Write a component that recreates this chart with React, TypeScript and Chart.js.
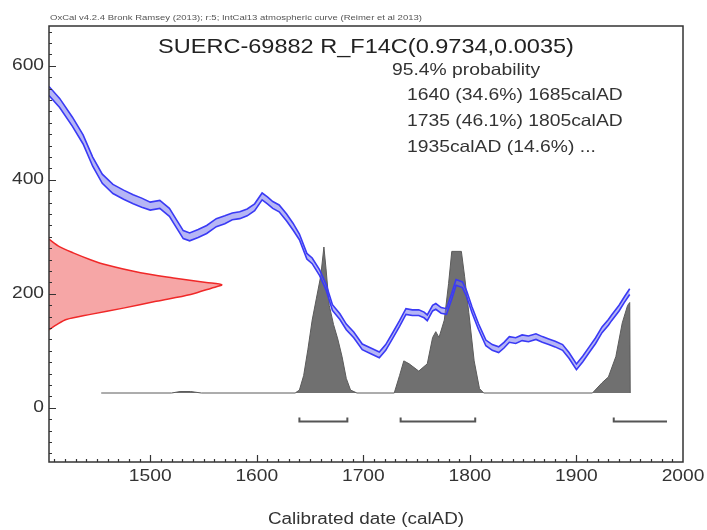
import React, { useEffect, useRef } from "react";
import { Chart, registerables } from "chart.js";

Chart.register(...registerables);

// Calibration curve (IntCal13), radiocarbon age BP: years, mean, 1-sigma
const curveYears = [1405, 1415, 1427, 1437, 1446, 1455, 1465, 1475, 1484, 1492, 1500, 1509, 1518, 1525, 1531, 1537, 1545, 1553, 1562, 1570, 1577, 1584, 1591, 1598, 1605, 1610, 1615, 1621, 1628, 1634, 1640, 1647, 1652, 1659, 1665, 1671, 1678, 1684, 1691, 1699, 1707, 1715, 1721, 1727, 1734, 1740, 1746, 1752, 1757, 1760, 1765, 1768, 1773, 1778, 1783, 1787, 1793, 1797, 1802, 1808, 1815, 1821, 1827, 1832, 1837, 1843, 1849, 1855, 1862, 1868, 1874, 1880, 1887, 1893, 1900, 1906, 1912, 1918, 1924, 1930, 1933, 1940, 1945, 1950];
const curveMid = [556, 535, 502, 471, 432, 402, 384, 374, 366, 360, 354, 357, 343, 322, 304, 300, 306, 313, 325, 330, 336, 338, 343, 352, 371, 364, 356, 350, 334, 318, 300, 266, 258, 237, 212, 176, 160, 142, 128, 107, 100, 93, 106, 125, 148, 169, 167, 167, 163, 158, 175, 178, 171, 169, 196, 220, 216, 200, 172, 143, 114, 106, 102, 110, 120, 118, 123, 121, 125, 120, 116, 112, 106, 92, 72, 86, 102, 118, 137, 150, 158, 175, 190, 204];
const curveErr = [8, 8, 8, 8, 8, 8, 8, 8, 8, 8, 7, 7, 7, 7, 7, 7, 7, 7, 7, 7, 6, 6, 6, 6, 6, 6, 6, 6, 6, 6, 5, 5, 5, 5, 5, 5, 5, 5, 5, 5, 5, 5, 5, 5, 5, 5, 5, 5, 5, 5, 5, 5, 5, 5, 5, 5, 5, 5, 5, 5, 5, 5, 5, 5, 5, 5, 5, 5, 5, 5, 5, 5, 5, 5, 5, 5, 5, 5, 5, 5, 5, 5, 5, 5];

// Posterior (calibrated) probability, relative density
const probYears = [1454, 1520, 1528, 1538, 1548, 1636, 1640, 1644, 1648, 1652, 1656, 1660, 1663, 1665, 1668, 1672, 1676, 1680, 1684, 1688, 1694, 1729, 1734, 1738, 1743, 1752, 1760, 1765, 1768, 1771, 1776, 1780, 1783, 1792, 1795, 1799, 1804, 1809, 1813, 1915, 1924, 1930, 1937, 1943, 1948, 1950, 1950.5];
const probDensity = [0, 0, 0.01, 0.01, 0, 0, 0.02, 0.12, 0.3, 0.5, 0.65, 0.8, 1.0, 0.85, 0.6, 0.47, 0.37, 0.25, 0.1, 0.02, 0, 0, 0.12, 0.22, 0.2, 0.15, 0.2, 0.38, 0.42, 0.38, 0.5, 0.75, 0.97, 0.97, 0.8, 0.55, 0.22, 0.03, 0, 0, 0.07, 0.11, 0.25, 0.48, 0.6, 0.62, 0];

// Measured radiocarbon age distribution (BP), relative density
const ageValues = [296, 283, 272, 260, 251, 237, 228, 220, 216, 210, 199, 187, 175, 164, 155, 146, 137];
const ageDensity = [0, 0.06, 0.14, 0.24, 0.33, 0.53, 0.72, 0.91, 1.0, 0.94, 0.82, 0.62, 0.43, 0.24, 0.1, 0.045, 0];

// 95.4% ranges
const rangeFrom = [1640, 1735, 1935];
const rangeTo = [1685, 1805, 1985];
const rangeOpen = [false, false, true];

const xTickValues = [1500, 1600, 1700, 1800, 1900, 2000];
const yTickValues = [0, 200, 400, 600];

const captionText = "OxCal v4.2.4 Bronk Ramsey (2013); r:5; IntCal13 atmospheric curve (Reimer et al 2013)";
const titleText = "SUERC-69882 R_F14C(0.9734,0.0035)";
const legendLines = ["95.4% probability", "1640 (34.6%) 1685calAD", "1735 (46.1%) 1805calAD", "1935calAD (14.6%) ..."];
const xAxisTitle = "Calibrated date (calAD)";

const FONT = "'Liberation Sans', Arial, Helvetica, sans-serif";
const BRACKET_LEVEL = -24;

function drawText(
  ctx: CanvasRenderingContext2D,
  text: string,
  x: number,
  y: number,
  size: number,
  align: CanvasTextAlign,
  hs: number,
  color: string,
  baseline: CanvasTextBaseline = "alphabetic"
) {
  ctx.save();
  ctx.font = `${size}px ${FONT}`;
  ctx.fillStyle = color;
  ctx.textAlign = align;
  ctx.textBaseline = baseline;
  ctx.translate(x, y);
  ctx.scale(hs, 1);
  ctx.fillText(text, 0, 0);
  ctx.restore();
}

const decorPlugin = {
  id: "oxcalDecor",
  afterDraw(chart: any) {
    const ctx = chart.ctx as CanvasRenderingContext2D;
    const { left, right, top, bottom } = chart.chartArea;
    const xs = chart.scales.x;
    const ys = chart.scales.y;
    ctx.save();
    // frame
    ctx.strokeStyle = "#333";
    ctx.lineWidth = 1.5;
    ctx.strokeRect(left, top, right - left, bottom - top);
    // y ticks (inward)
    ctx.lineWidth = 1.2;
    ctx.beginPath();
    for (let v = -80; v <= 660; v += 20) {
      const py = Math.round(ys.getPixelForValue(v)) + 0.5;
      const len = v % 200 === 0 ? 7 : 3;
      ctx.moveTo(left, py);
      ctx.lineTo(left + len, py);
    }
    // x ticks (inward)
    for (let yr = 1410; yr < 2000; yr += 10) {
      const px = Math.round(xs.getPixelForValue(yr)) + 0.5;
      const len = yr % 100 === 0 ? 7 : 3;
      ctx.moveTo(px, bottom);
      ctx.lineTo(px, bottom - len);
    }
    ctx.stroke();
    // range brackets
    ctx.strokeStyle = "#555";
    ctx.lineWidth = 2;
    const by = ys.getPixelForValue(BRACKET_LEVEL);
    for (let i = 0; i < rangeFrom.length; i++) {
      const x1 = xs.getPixelForValue(rangeFrom[i]);
      const x2 = xs.getPixelForValue(rangeTo[i]);
      ctx.beginPath();
      ctx.moveTo(x1, by - 4);
      ctx.lineTo(x1, by);
      ctx.lineTo(x2, by);
      if (!rangeOpen[i]) ctx.lineTo(x2, by - 4);
      ctx.stroke();
    }
    ctx.restore();

    // tick labels
    yTickValues.forEach((v) => drawText(ctx, String(v), left - 5, ys.getPixelForValue(v), 16, "right", 1.2, "#333", "middle"));
    xTickValues.forEach((v) => drawText(ctx, String(v), xs.getPixelForValue(v), 477, 16, "center", 1.2, "#333", "middle"));
    // texts
    drawText(ctx, captionText, 50, 20, 8, "left", 1.19, "#555");
    drawText(ctx, titleText, (left + right) / 2, 53, 21, "center", 1.12, "#222");
    const lx = [392, 407, 407, 407];
    const ly = [75, 100, 126, 152];
    legendLines.forEach((t, i) => drawText(ctx, t, lx[i], ly[i], 16.5, "left", 1.17, "#333"));
    drawText(ctx, xAxisTitle, (left + right) / 2, 520, 16, "center", 1.18, "#333", "middle");
  },
};

export default function App() {
  const ref = useRef<HTMLCanvasElement | null>(null);
  useEffect(() => {
    if (!ref.current) return;
    const upper = curveYears.map((x, i) => ({ x, y: curveMid[i] + curveErr[i] }));
    const lower = curveYears.map((x, i) => ({ x, y: curveMid[i] - curveErr[i] }));
    const prob = probYears.map((x, i) => ({ x, y: probDensity[i] }));
    const age = ageValues.map((v, i) => ({ x: ageDensity[i], y: v }));
    const chart = new Chart(ref.current, {
      type: "line",
      data: {
        datasets: [
          { data: upper, xAxisID: "x", yAxisID: "y", borderColor: "#3a3af5", borderWidth: 1.6, pointRadius: 0, fill: false, tension: 0 },
          { data: lower, xAxisID: "x", yAxisID: "y", borderColor: "#3a3af5", borderWidth: 1.6, pointRadius: 0, fill: "-1", backgroundColor: "rgba(110,110,235,0.5)", tension: 0 },
          { data: prob, xAxisID: "x", yAxisID: "yProb", borderColor: "#5a5a5a", borderWidth: 1, pointRadius: 0, fill: "origin", backgroundColor: "#707070", tension: 0 },
          { data: age, xAxisID: "xProb", yAxisID: "y", borderColor: "#f02828", borderWidth: 1.5, pointRadius: 0, fill: "shape", backgroundColor: "rgba(245,150,150,0.85)", tension: 0.3 },
        ],
      },
      options: {
        animation: false,
        responsive: false,
        devicePixelRatio: 1,
        layout: { padding: { left: 0, top: 26, right: 24, bottom: 0 } },
        plugins: { legend: { display: false }, tooltip: { enabled: false }, title: { display: false } },
        scales: {
          x: {
            type: "linear",
            position: "bottom",
            min: 1405,
            max: 2000,
            afterBuildTicks: (s: any) => { s.ticks = xTickValues.map((v) => ({ value: v })); },
            afterFit: (s: any) => { s.height = 68; },
            grid: { display: false },
            border: { display: false },
            ticks: { display: false },
          },
          y: {
            type: "linear",
            position: "left",
            min: -95,
            max: 670,
            afterBuildTicks: (s: any) => { s.ticks = yTickValues.map((v) => ({ value: v })); },
            afterFit: (s: any) => { s.width = 49; },
            grid: { display: false },
            border: { display: false },
            ticks: { display: false },
          },
          xProb: { type: "linear", position: "bottom", display: false, min: 0, max: 3.67 },
          yProb: { type: "linear", position: "left", display: false, min: -0.4726, max: 2.5137 },
        },
      } as any,
      plugins: [decorPlugin],
    });
    return () => chart.destroy();
  }, []);
  return (
    <div style={{ position: "absolute", left: 0, top: 0, width: 707, height: 530, background: "#fff" }}>
      <canvas ref={ref} width={707} height={530} />
    </div>
  );
}
